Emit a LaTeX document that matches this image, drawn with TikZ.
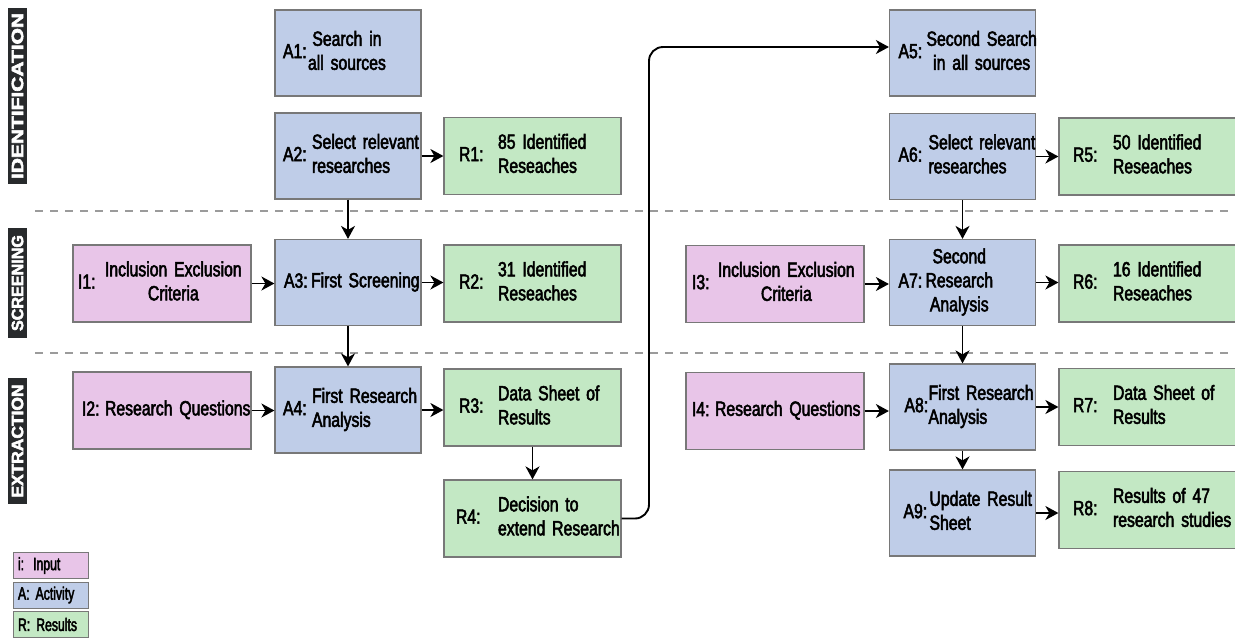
\documentclass[tikz,border=0pt]{standalone}
\usepackage{fontspec}
\usepackage{graphicx}
\setmainfont{Liberation Sans}[FakeStretch=0.77,FakeBold=2.5]
\newfontfamily\legfont{Liberation Sans}[FakeStretch=0.68,FakeBold=2.5]
\usetikzlibrary{arrows.meta}
\definecolor{pinkc}{RGB}{232,197,232}
\definecolor{bluec}{RGB}{191,205,232}
\definecolor{greenc}{RGB}{195,232,196}
\definecolor{edgec}{RGB}{120,120,120}
\definecolor{dashc}{RGB}{155,155,155}
\definecolor{darkc}{RGB}{40,42,44}
\newcommand{\blab}[5]{\hspace*{#1pt}\makebox[\dimexpr #2pt-#1pt\relax][l]{#3}\begin{tabular}[c]{@{}#4@{}}#5\end{tabular}}
\tikzset{
  box/.style={draw=edgec, line width=1.2pt, inner xsep=0pt, inner ysep=0pt, align=left,
    font=\fontsize{20.5}{24}\selectfont},
  abox/.style={box, fill=bluec, text width=146pt, minimum height=86pt},
  rbox/.style={box, fill=greenc, text width=177pt, minimum height=77pt},
  rboxw/.style={box, fill=greenc, text width=185pt, minimum height=77pt},
  ibox/.style={box, fill=pinkc, text width=178pt, minimum height=77pt},
  arr/.style={draw=black, line width=1.9pt, -{Stealth[length=13pt,width=14pt,inset=4pt]}},
  dashline/.style={draw=dashc, line width=1.4pt, dash pattern=on 8pt off 7pt},
  sidebox/.style={fill=darkc, text=white, rotate=90, minimum height=19pt, inner sep=0pt},
  legbox/.style={draw=edgec, line width=1pt, inner xsep=5pt, inner ysep=0pt, text width=65pt,
    minimum height=26pt, align=left, font=\legfont\fontsize{18}{20}\selectfont}
}
\begin{document}
\begin{tikzpicture}[x=1pt,y=-1pt]
\useasboundingbox (0,0) rectangle (1235,638);
\fill[white] (0,0) rectangle (1235,638);

% dashed separators
\coordinate (d1a) at (35,211); \coordinate (d1b) at (1235,211);
\coordinate (d2a) at (35,353); \coordinate (d2b) at (1235,353);
\draw[dashline] (d1a) -- (d1b);
\draw[dashline] (d2a) -- (d2b);

% side labels
\node[sidebox, minimum width=176pt] (S1) at (17.5,96) {\resizebox{166pt}{11.5pt}{\bfseries IDENTIFICATION}};
\node[sidebox, minimum width=110pt] (S2) at (17.5,283) {\resizebox{96pt}{11.5pt}{\bfseries SCREENING}};
\node[sidebox, minimum width=126pt] (S3) at (17.5,441) {\resizebox{113pt}{11.5pt}{\bfseries EXTRACTION}};

% left column
\node[abox] (A1) at (348,53) {\blab{8}{33}{A1:}{c}{Search in\\all sources}};
\node[abox] (A2) at (348,156) {\blab{8}{37}{A2:}{l}{Select relevant\\researches}};
\node[rbox] (R1) at (532.5,156) {\blab{15}{54}{R1:}{l}{85 Identified\\Reseaches}};
\node[ibox] (I1) at (162,283.5) {\blab{5}{32}{I1:}{c}{Inclusion Exclusion\\Criteria}};
\node[abox] (A3) at (348,282.5) {\blab{9}{36}{A3:}{l}{First Screening}};
\node[rbox] (R2) at (532.5,283.5) {\blab{15}{54}{R2:}{l}{31 Identified\\Reseaches}};
\node[ibox] (I2) at (162,410.5) {\blab{9}{32}{I2:}{l}{Research Questions}};
\node[abox] (A4) at (348,410) {\blab{8}{37}{A4:}{l}{First Research\\Analysis}};
\node[rbox] (R3) at (532.5,407.5) {\blab{15}{54}{R3:}{l}{Data Sheet of\\Results}};
\node[rbox] (R4) at (532.5,518.5) {\blab{12}{54}{R4:}{l}{Decision to\\extend Research}};

% right column
\node[abox] (A5) at (962.5,53) {\blab{9}{37}{A5:}{c}{Second Search\\in all sources}};
\node[abox] (A6) at (962.5,156.5) {\blab{9}{39}{A6:}{l}{Select relevant\\researches}};
\node[rboxw] (R5) at (1151.5,156.5) {\blab{14}{54}{R5:}{l}{50 Identified\\Reseaches}};
\node[ibox] (I3) at (775,284) {\blab{6}{32}{I3:}{c}{Inclusion Exclusion\\Criteria}};
\node[abox] (A7) at (962.5,282.5) {\blab{9}{36}{A7:}{c}{Second\\Research\\Analysis}};
\node[rboxw] (R6) at (1151.5,283.5) {\blab{14}{54}{R6:}{l}{16 Identified\\Reseaches}};
\node[ibox] (I4) at (775,411) {\blab{6}{29}{I4:}{l}{Research Questions}};
\node[abox] (A8) at (962.5,407) {\blab{15}{39}{A8:}{l}{First Research\\Analysis}};
\node[rboxw] (R7) at (1151.5,407) {\blab{14}{54}{R7:}{l}{Data Sheet of\\Results}};
\node[abox] (A9) at (962.5,513) {\blab{14}{40}{A9:}{l}{Update Result\\Sheet}};
\node[rboxw] (R8) at (1151.5,510) {\blab{14}{54}{R8:}{l}{Results of 47\\research studies}};

% legend
\node[legbox, fill=pinkc] (L1) at (50.5,565.5) {i: Input};
\node[legbox, fill=bluec] (L2) at (50.5,595) {A: Activity};
\node[legbox, fill=greenc] (L3) at (50.5,624.5) {R: Results};

% arrows left
\draw[arr] (A2.east) -- (A2.east -| R1.west);
\draw[arr] (A2.south) -- (A3.north);
\draw[arr] (I1.east) -- (I1.east -| A3.west);
\draw[arr] (A3.east) -- (A3.east -| R2.west);
\draw[arr] (A3.south) -- (A4.north);
\draw[arr] (I2.east) -- (I2.east -| A4.west);
\draw[arr] (A4.east) -- (A4.east -| R3.west);
\draw[arr] (R3.south) -- (R4.north);

% long connector
\coordinate (jx) at (649,0);
\coordinate (A5in) at ([yshift=6pt]A5.west);
\draw[arr, rounded corners=14pt] (R4.east) -- (R4.east -| jx) -- (jx |- A5in) -- (A5in);

% arrows right
\draw[arr] (A6.east) -- (A6.east -| R5.west);
\draw[arr] (A6.south) -- (A7.north);
\draw[arr] (I3.east) -- (I3.east -| A7.west);
\draw[arr] (A7.east) -- (A7.east -| R6.west);
\draw[arr] (A7.south) -- (A8.north);
\draw[arr] (I4.east) -- (I4.east -| A8.west);
\draw[arr] (A8.east) -- (A8.east -| R7.west);
\draw[arr] (A8.south) -- (A9.north);
\draw[arr] (A9.east) -- (A9.east -| R8.west);
\end{tikzpicture}
\end{document}
